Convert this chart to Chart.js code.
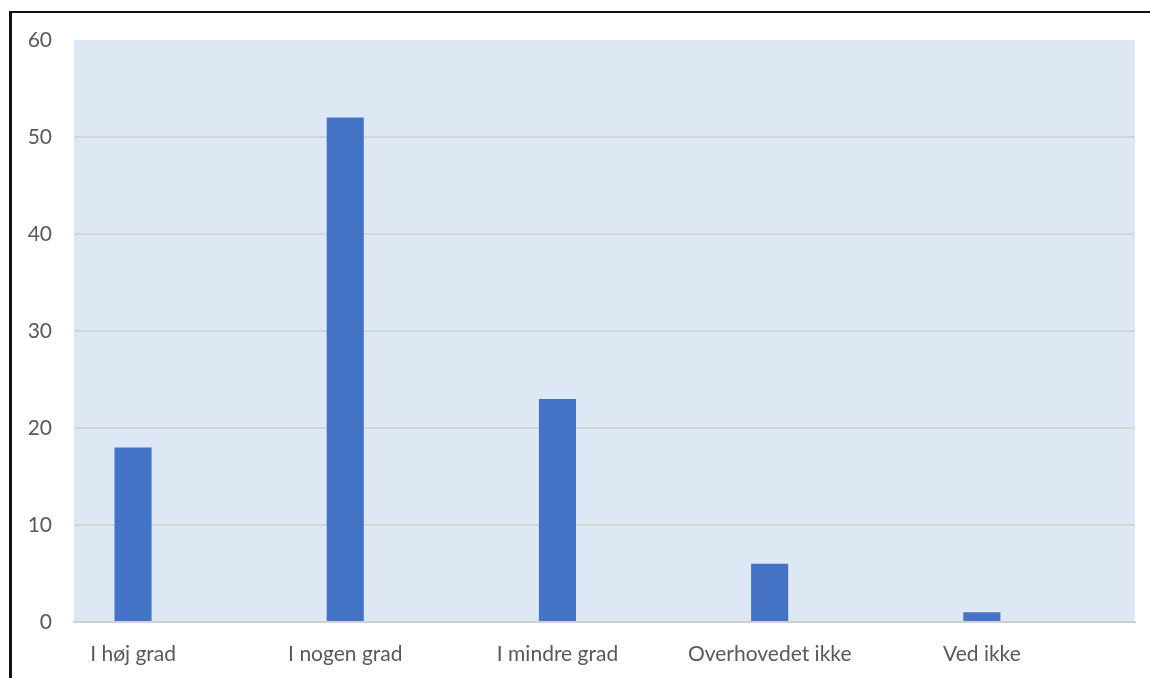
<!DOCTYPE html>
<html>
<head>
<meta charset="utf-8">
<script src="https://cdn.jsdelivr.net/npm/chart.js@4"></script>
<style>
  html, body { margin: 0; padding: 0; background: #ffffff; }
  #wrap { position: relative; width: 1150px; height: 678px; overflow: hidden; }
  #frame { position: absolute; left: 9px; top: 11px; width: 1200px; height: 700px;
           border-left: 3px solid #111; border-top: 2px solid #111; box-sizing: border-box; pointer-events: none; }
  canvas { position: absolute; left: 0; top: 0; }
</style>
</head>
<body>
<div id="wrap">
  <canvas id="c" width="1150" height="678"></canvas>
  <div id="frame"></div>
</div>
<script>
const categories = ['I høj grad', 'I nogen grad', 'I mindre grad', 'Overhovedet ikke', 'Ved ikke'];
const values = [18, 52, 23, 6, 1];
const emptySeries = [null, null, null, null, null];
const yTicks = [0, 10, 20, 30, 40, 50, 60];

const plotBg = {
  id: 'plotBg',
  beforeDraw(chart) {
    const { ctx, chartArea: a } = chart;
    ctx.save();
    ctx.fillStyle = '#DEE8F4';
    ctx.fillRect(a.left, a.top, a.right - a.left, a.bottom - a.top);
    ctx.restore();
  }
};

new Chart(document.getElementById('c'), {
  type: 'bar',
  data: {
    labels: categories,
    datasets: [
      { data: values, backgroundColor: '#4472C4', borderWidth: 0 },
      { data: emptySeries, backgroundColor: '#4472C4', borderWidth: 0 }
    ]
  },
  options: {
    responsive: false,
    animation: false,
    devicePixelRatio: 1,
    layout: { padding: { top: 40, left: 0, right: 15, bottom: 0 } },
    plugins: { legend: { display: false }, tooltip: { enabled: false } },
    datasets: { bar: { categoryPercentage: 0.887, barPercentage: 0.394 } },
    scales: {
      x: {
        grid: { display: false, drawTicks: false },
        border: { display: true, color: '#D0D0D0', width: 2 },
        ticks: {
          color: '#595959', padding: 20, maxRotation: 0,
          font: { family: 'Lato', size: 21 },
          labelOffset: -47
        },
        afterFit(s) { s.height = 56; }
      },
      y: {
        min: 0, max: 60,
        afterBuildTicks(s) { s.ticks = yTicks.map(v => ({ value: v })); },
        grid: {
          color: (ctx) => (ctx.tick && ctx.tick.value === 60) ? 'rgba(0,0,0,0)' : '#D6D6D6',
          lineWidth: 2, drawTicks: false
        },
        border: { display: false },
        ticks: {
          color: '#595959', padding: 22,
          font: { family: 'Lato', size: 21 }
        },
        afterFit(s) { s.width = 74; }
      }
    }
  },
  plugins: [plotBg]
});
</script>
</body>
</html>
